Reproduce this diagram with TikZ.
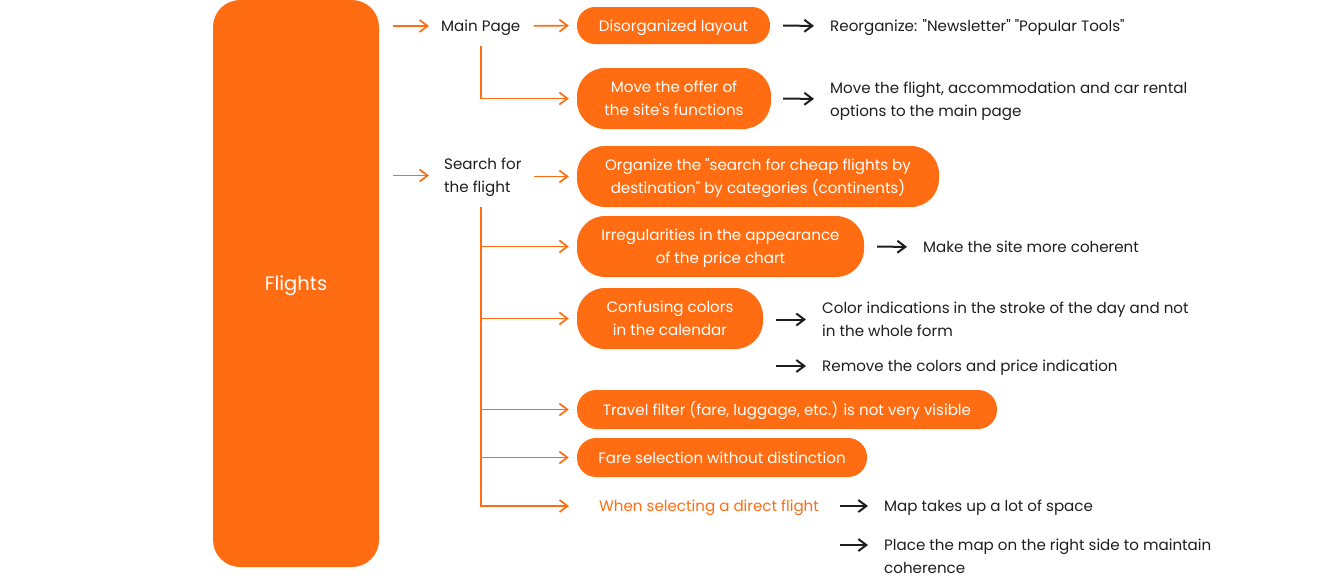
\documentclass[tikz,border=0pt]{standalone}
\usepackage{fontspec}
\setmainfont{Poppins}
\usetikzlibrary{arrows.meta,calc}
\definecolor{org}{RGB}{255,108,17}
\definecolor{ink}{RGB}{30,30,30}
\newcommand{\dq}{\textquotedbl}
\newcommand{\sq}{\textquotesingle}
\tikzset{
  base/.style={font=\fontsize{15.1}{23}\selectfont, inner sep=0pt, text height=15pt, text depth=4pt},
  two/.style={text height=38pt},
  pill/.style={base, fill=org, text=white, align=center, rounded corners=#1},
  pill/.default=18pt,
  lbl/.style={base, text=ink, anchor=west, align=left},
  oarr/.style={draw=org, line width=1.7pt, -{Straight Barb[length=8pt,width=12pt,line width=1.7pt]}},
  barr/.style={draw=ink, line width=2pt, -{Straight Barb[length=8pt,width=12pt,line width=2pt]}}
}
\begin{document}
\begin{tikzpicture}[x=1pt,y=-1pt]
\useasboundingbox (0,0) rectangle (1318,587);
% big box
\node[fill=org, rounded corners=27pt, minimum width=166pt, minimum height=567pt, inner sep=0pt,
  text=white, font=\fontsize{19.5}{23}\selectfont, text height=19pt, text depth=5pt] (fl) at (296,283.5) {Flights};
% level 1 labels
\node[lbl] (mp) at (441,26) {Main Page};
\node[lbl, two] (sf) at (444,175.5) {Search for\\the flight};
% boxes
\node[pill, minimum width=193pt, minimum height=37pt] (d1) at (673.5,25.5) {Disorganized layout};
\node[pill=28pt, two, minimum width=194pt, minimum height=61pt] (d2) at (674,98.5) {Move the offer of\\the site\sq s functions};
\node[pill=28pt, two, minimum width=362pt, minimum height=61pt] (d3) at (758,176.5) {Organize the \dq search for cheap flights by\\destination\dq{} by categories (continents)};
\node[pill=28pt, two, minimum width=287pt, minimum height=61pt] (d4) at (720.5,246.5) {Irregularities in the appearance\\of the price chart};
\node[pill=28pt, two, minimum width=186pt, minimum height=61pt] (d5) at (670,318.5) {Confusing colors\\in the calendar};
\node[pill=19pt, minimum width=420pt, minimum height=39pt] (d6) at (787,409.5) {Travel filter (fare, luggage, etc.) is not very visible};
\node[pill=19pt, minimum width=290pt, minimum height=39pt] (d7) at (722,457.5) {Fare selection without distinction};
\node[base, text=org, anchor=west] (w8) at (599,506) {When selecting a direct flight};
% right texts
\node[lbl] (r1) at (830,26) {Reorganize: \dq Newsletter\dq{} \dq Popular Tools\dq};
\node[lbl, two] (r2) at (830,99) {Move the flight, accommodation and car rental\\options to the main page};
\node[lbl] (r4) at (923,247) {Make the site more coherent};
\node[lbl, two] (r5a) at (822,319.5) {Color indications in the stroke of the day and not\\in the whole form};
\node[lbl] (r5b) at (822,366) {Remove the colors and price indication};
\node[lbl] (r8a) at (884,506) {Map takes up a lot of space};
\node[lbl, two] (r8b) at (884,556) {Place the map on the right side to maintain\\coherence};
% orange connectors
\draw[oarr, shorten <=14pt, shorten >=12pt] (fl.east |- mp.west) -- (mp.west);
\draw[oarr, shorten <=14pt, shorten >=15pt] (fl.east |- sf.west) -- (sf.west);
\draw[oarr, shorten <=13pt, shorten >=8pt] (mp.east) -- (d1.west);
\draw[oarr, shorten <=12pt, shorten >=8pt] (sf.east |- d3.west) -- (d3.west);
\coordinate (mpv) at ($(mp.south)+(0,10)$);
\draw[oarr, shorten >=8pt] (mpv) |- (d2.west);
\coordinate (sfv) at ($(sf.south -| mp.south)+(0,10)$);
\draw[oarr, shorten >=30pt] (sfv) |- (w8.west);
\draw[oarr, shorten >=8pt] (sfv |- d4.west) -- (d4.west);
\draw[oarr, shorten >=8pt] (sfv |- d5.west) -- (d5.west);
\draw[oarr, shorten >=8pt] (sfv |- d6.west) -- (d6.west);
\draw[oarr, shorten >=8pt] (sfv |- d7.west) -- (d7.west);
% black connectors
\draw[barr, shorten <=13pt, shorten >=16pt] (d1.east) -- (r1.west);
\draw[barr, shorten <=12pt, shorten >=16pt] (d2.east) -- (r2.west);
\draw[barr, shorten <=13pt, shorten >=16pt] (d4.east) -- (r4.west);
\draw[barr, shorten <=13pt, shorten >=16pt] (d5.east |- r5a.west) -- (r5a.west);
\draw[barr, shorten <=13pt, shorten >=16pt] (d5.east |- r5b.west) -- (r5b.west);
\draw[barr, shorten <=21pt, shorten >=16pt] (w8.east) -- (r8a.west);
\coordinate (r8bl) at ($(r8b.west)+(0,-11)$);
\draw[barr, shorten <=21pt, shorten >=16pt] (w8.east |- r8bl) -- (r8bl);
\end{tikzpicture}
\end{document}
